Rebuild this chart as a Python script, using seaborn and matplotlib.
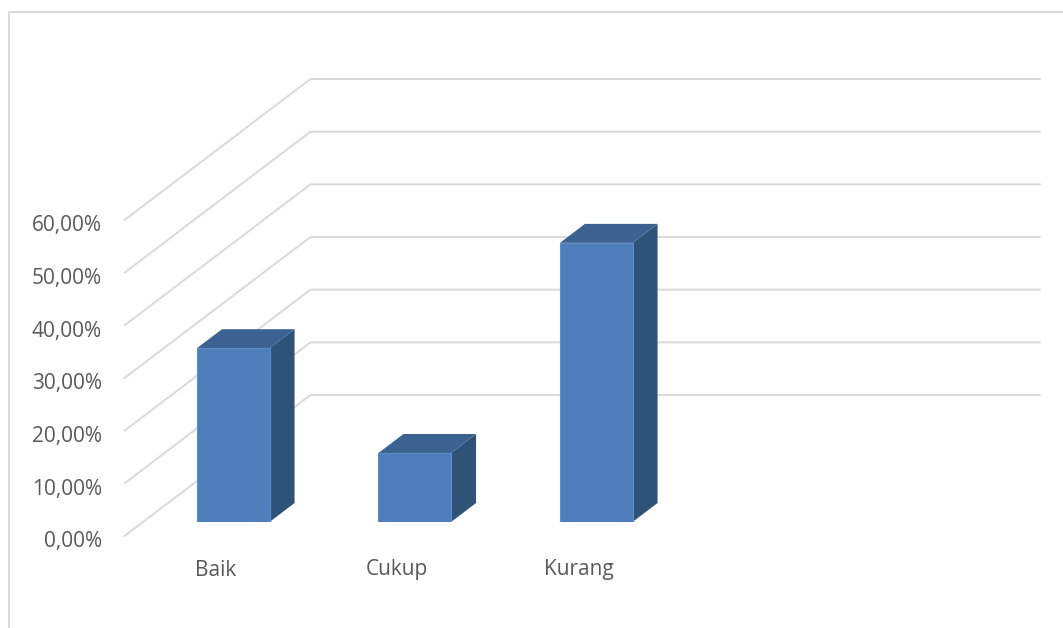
import matplotlib
matplotlib.use('Agg')
import matplotlib.pyplot as plt
from matplotlib.lines import Line2D
from matplotlib.patches import Polygon
import seaborn as sns

categories = ['Baik', 'Cukup', 'Kurang']
values = [33.0, 13.1, 53.0]
ticks = [0, 10, 20, 30, 40, 50, 60]
tick_labels = ['0,00%', '10,00%', '20,00%', '30,00%', '40,00%', '50,00%', '60,00%']

W, H = 1063, 628
sns.set_theme(style='white')
plt.rcParams['font.family'] = ['Open Sans', 'DejaVu Sans']
grey = '#d9d9d9'
text_col = '#595959'

fig = plt.figure(figsize=(W / 100, H / 100), dpi=100)
# bar plane of the fake 3d chart, pixels measured from the bottom left
ax = fig.add_axes([142.5 / W, (H - 522) / H, 726 / W, 316 / H])

# order has an empty 4th slot, the chart leaves that room free
sns.barplot(x=categories, y=values, order=categories + [''], color='#4e7fbc',
            width=0.4, saturation=1, edgecolor='#5f8dc6', linewidth=0.8, ax=ax, zorder=3)
ax.set_xlim(-0.5, 3.5)
ax.set_ylim(0, 60)
ax.axis('off')
fig.canvas.draw()

to_px = ax.transData.transform


def add_line(xs, ys):
    fig.add_artist(Line2D(xs, ys, transform=None, color=grey, lw=1.4, zorder=1))


# walls: front edge sits 18,14 px before the bar plane, back edge 168,127 px behind it
for t, lab in zip(ticks, tick_labels):
    x0, y0 = to_px((-0.5, t))
    add_line([x0 - 18, x0 + 168, 1040], [y0 - 14, y0 + 127, y0 + 127])
    fig.text(102 / W, (y0 - 20) / H, lab, ha='right', va='center', fontsize=15, color=text_col)

# side and top faces are built from the drawn bars, ax sits on top of the grid
ax.set_zorder(2)
dx, dy = 25, 19
inv = ax.transData.inverted()
for bar in ax.patches:
    if bar.get_height() <= 0 or bar.get_width() <= 0:
        continue
    (l, b), (r, t) = to_px([(bar.get_x(), 0), (bar.get_x() + bar.get_width(), bar.get_height())])
    side = [(r, b), (r + dx, b + dy), (r + dx, t + dy), (r, t)]
    top = [(l, t), (l + dx, t + dy), (r + dx, t + dy), (r, t)]
    ax.add_patch(Polygon(inv.transform(side), color='#2f5279', lw=0, zorder=2, clip_on=False))
    ax.add_patch(Polygon(inv.transform(top), color='#3c6291', lw=0, zorder=2, clip_on=False))

# category labels belong to the front edge of the floor
for i, cat in enumerate(categories):
    x0, y0 = to_px((i, 0))
    fig.text((x0 - 17.5) / W, (H - 570) / H, cat, ha='center', va='center', fontsize=15, color=text_col)

# outer chart frame, cut off by the image on the right and bottom
fig.add_artist(Line2D([9, 9, W], [0, H - 12, H - 12], transform=None, color=grey, lw=1.4))

fig.savefig('out.png', dpi=100)
